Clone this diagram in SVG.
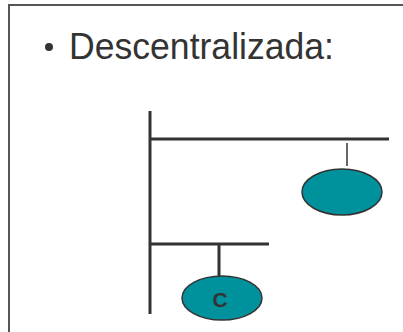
<svg xmlns="http://www.w3.org/2000/svg" width="403" height="332" viewBox="0 0 403 332">
  <style>
    .bus { stroke: #333333; stroke-width: 3; fill: none; }
    .drop { stroke: #333333; stroke-width: 1.5; fill: none; }
    .node { fill: #00929C; stroke: #333333; stroke-width: 1.5; }
    .title { font-family: "Liberation Sans", Arial, sans-serif; font-size: 37px; fill: #333333; }
    .label { font-family: "Liberation Sans", Arial, sans-serif; font-size: 21px; font-weight: bold; fill: #333333; }
  </style>
  <rect x="0" y="0" width="403" height="332" fill="#ffffff"/>
  <!-- slide frame -->
  <path d="M9,332 V5 H403" fill="none" stroke="#555555" stroke-width="2"/>
  <!-- heading -->
  <circle cx="49" cy="47" r="4" fill="#333333"/>
  <text class="title" x="69" y="59" textLength="265" lengthAdjust="spacingAndGlyphs">Descentralizada:</text>
  <g id="connectors">
    <line class="bus" x1="150" y1="111" x2="150" y2="314"/>
    <line class="bus" x1="150" y1="139" x2="389" y2="139"/>
    <line class="bus" x1="150" y1="244" x2="269" y2="244"/>
    <line class="drop" x1="347" y1="143" x2="347" y2="166"/>
    <line class="bus" x1="219" y1="244" x2="219" y2="279"/>
  </g>
  <g id="node-top">
    <ellipse class="node" cx="342" cy="192" rx="40" ry="23"/>
  </g>
  <g id="node-c">
    <ellipse class="node" cx="222" cy="298" rx="40" ry="22"/>
    <text class="label" x="220" y="307" text-anchor="middle">C</text>
  </g>
</svg>
